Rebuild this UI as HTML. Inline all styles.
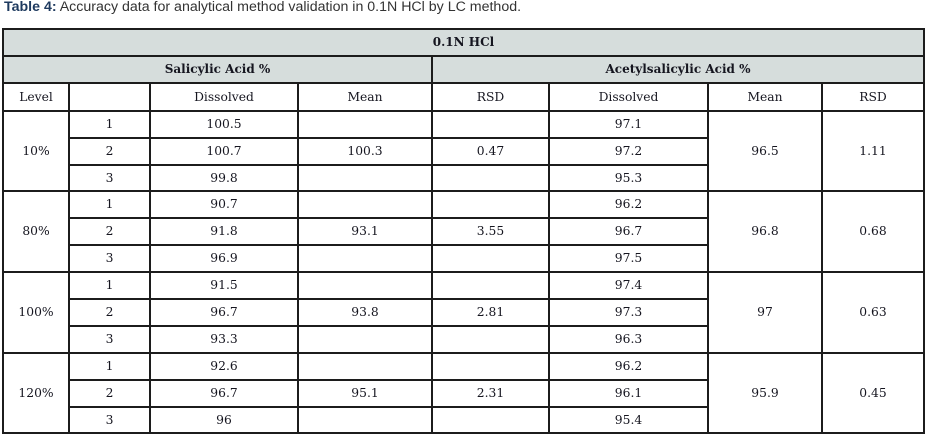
<!DOCTYPE html>
<html>
<head>
<meta charset="utf-8">
<style>
  html,body{margin:0;padding:0;background:#fff;}
  body{width:928px;height:438px;position:relative;overflow:hidden;}
  .title{position:absolute;left:4px;top:-1px;font-family:"Liberation Sans",Arial,sans-serif;font-size:14.2px;line-height:17px;color:#333;white-space:nowrap;}
  .title b{color:#1e3a5f;}
  .bg{position:absolute;background:#d6dddc;}
  .h{position:absolute;height:2px;background:#1c1c1c;}
  .v{position:absolute;width:2px;background:#1c1c1c;}
  .t{position:absolute;text-align:center;font-family:"DejaVu Serif","Liberation Serif",serif;font-size:12.3px;color:#15151f;white-space:nowrap;height:27px;line-height:27px;}
  .b{font-weight:bold;font-size:12px;}
</style>
</head>
<body>
<div class="title"><b>Table 4:</b> Accuracy data for analytical method validation in 0.1N HCl by LC method.</div>

<!-- header backgrounds -->
<div class="bg" style="left:3px;top:29px;width:921px;height:54px;"></div>

<!-- horizontal full lines -->
<div class="h" style="left:2px;width:923px;top:28px;"></div>
<div class="h" style="left:2px;width:923px;top:55px;"></div>
<div class="h" style="left:2px;width:923px;top:82px;"></div>
<div class="h" style="left:2px;width:923px;top:109.7px;"></div>
<div class="h" style="left:2px;width:923px;top:190.4px;"></div>
<div class="h" style="left:2px;width:923px;top:271.1px;"></div>
<div class="h" style="left:2px;width:923px;top:351.8px;"></div>
<div class="h" style="left:2px;width:923px;top:432px;"></div>

<!-- partial horizontal lines -->
<div class="h" style="left:69px;width:640px;top:136.6px;"></div>
<div class="h" style="left:69px;width:640px;top:163.5px;"></div>
<div class="h" style="left:69px;width:640px;top:217.3px;"></div>
<div class="h" style="left:69px;width:640px;top:244.2px;"></div>
<div class="h" style="left:69px;width:640px;top:298px;"></div>
<div class="h" style="left:69px;width:640px;top:324.9px;"></div>
<div class="h" style="left:69px;width:640px;top:378.7px;"></div>
<div class="h" style="left:69px;width:640px;top:405.6px;"></div>

<!-- vertical lines -->
<div class="v" style="left:2px;top:28px;height:406px;"></div>
<div class="v" style="left:923px;top:28px;height:406px;"></div>
<div class="v" style="left:431px;top:55px;height:379px;"></div>
<div class="v" style="left:68px;top:82px;height:352px;"></div>
<div class="v" style="left:149px;top:82px;height:352px;"></div>
<div class="v" style="left:297px;top:82px;height:352px;"></div>
<div class="v" style="left:548px;top:82px;height:352px;"></div>
<div class="v" style="left:707px;top:82px;height:352px;"></div>
<div class="v" style="left:821px;top:82px;height:352px;"></div>

<!-- header text -->
<div class="t b" style="left:3px;width:921px;top:29px;">0.1N HCl</div>
<div class="t b" style="left:3px;width:429px;top:56px;">Salicylic Acid %</div>
<div class="t b" style="left:432px;width:492px;top:56px;">Acetylsalicylic Acid %</div>

<div class="t" style="left:3px;width:66px;top:84px;">Level</div>
<div class="t" style="left:150px;width:148px;top:84px;">Dissolved</div>
<div class="t" style="left:298px;width:134px;top:84px;">Mean</div>
<div class="t" style="left:432px;width:117px;top:84px;">RSD</div>
<div class="t" style="left:549px;width:159px;top:84px;">Dissolved</div>
<div class="t" style="left:708px;width:114px;top:84px;">Mean</div>
<div class="t" style="left:822px;width:102px;top:84px;">RSD</div>

<!-- Group 10% -->
<div class="t" style="left:69px;width:81px;top:110.7px;">1</div>
<div class="t" style="left:150px;width:148px;top:110.7px;">100.5</div>
<div class="t" style="left:549px;width:159px;top:110.7px;">97.1</div>
<div class="t" style="left:3px;width:66px;top:137.6px;">10%</div>
<div class="t" style="left:69px;width:81px;top:137.6px;">2</div>
<div class="t" style="left:150px;width:148px;top:137.6px;">100.7</div>
<div class="t" style="left:298px;width:134px;top:137.6px;">100.3</div>
<div class="t" style="left:432px;width:117px;top:137.6px;">0.47</div>
<div class="t" style="left:549px;width:159px;top:137.6px;">97.2</div>
<div class="t" style="left:708px;width:114px;top:137.6px;">96.5</div>
<div class="t" style="left:822px;width:102px;top:137.6px;">1.11</div>
<div class="t" style="left:69px;width:81px;top:164.5px;">3</div>
<div class="t" style="left:150px;width:148px;top:164.5px;">99.8</div>
<div class="t" style="left:549px;width:159px;top:164.5px;">95.3</div>

<!-- Group 80% -->
<div class="t" style="left:69px;width:81px;top:191.4px;">1</div>
<div class="t" style="left:150px;width:148px;top:191.4px;">90.7</div>
<div class="t" style="left:549px;width:159px;top:191.4px;">96.2</div>
<div class="t" style="left:3px;width:66px;top:218.3px;">80%</div>
<div class="t" style="left:69px;width:81px;top:218.3px;">2</div>
<div class="t" style="left:150px;width:148px;top:218.3px;">91.8</div>
<div class="t" style="left:298px;width:134px;top:218.3px;">93.1</div>
<div class="t" style="left:432px;width:117px;top:218.3px;">3.55</div>
<div class="t" style="left:549px;width:159px;top:218.3px;">96.7</div>
<div class="t" style="left:708px;width:114px;top:218.3px;">96.8</div>
<div class="t" style="left:822px;width:102px;top:218.3px;">0.68</div>
<div class="t" style="left:69px;width:81px;top:245.2px;">3</div>
<div class="t" style="left:150px;width:148px;top:245.2px;">96.9</div>
<div class="t" style="left:549px;width:159px;top:245.2px;">97.5</div>

<!-- Group 100% -->
<div class="t" style="left:69px;width:81px;top:272.1px;">1</div>
<div class="t" style="left:150px;width:148px;top:272.1px;">91.5</div>
<div class="t" style="left:549px;width:159px;top:272.1px;">97.4</div>
<div class="t" style="left:3px;width:66px;top:299px;">100%</div>
<div class="t" style="left:69px;width:81px;top:299px;">2</div>
<div class="t" style="left:150px;width:148px;top:299px;">96.7</div>
<div class="t" style="left:298px;width:134px;top:299px;">93.8</div>
<div class="t" style="left:432px;width:117px;top:299px;">2.81</div>
<div class="t" style="left:549px;width:159px;top:299px;">97.3</div>
<div class="t" style="left:708px;width:114px;top:299px;">97</div>
<div class="t" style="left:822px;width:102px;top:299px;">0.63</div>
<div class="t" style="left:69px;width:81px;top:325.9px;">3</div>
<div class="t" style="left:150px;width:148px;top:325.9px;">93.3</div>
<div class="t" style="left:549px;width:159px;top:325.9px;">96.3</div>

<!-- Group 120% -->
<div class="t" style="left:69px;width:81px;top:352.8px;">1</div>
<div class="t" style="left:150px;width:148px;top:352.8px;">92.6</div>
<div class="t" style="left:549px;width:159px;top:352.8px;">96.2</div>
<div class="t" style="left:3px;width:66px;top:379.7px;">120%</div>
<div class="t" style="left:69px;width:81px;top:379.7px;">2</div>
<div class="t" style="left:150px;width:148px;top:379.7px;">96.7</div>
<div class="t" style="left:298px;width:134px;top:379.7px;">95.1</div>
<div class="t" style="left:432px;width:117px;top:379.7px;">2.31</div>
<div class="t" style="left:549px;width:159px;top:379.7px;">96.1</div>
<div class="t" style="left:708px;width:114px;top:379.7px;">95.9</div>
<div class="t" style="left:822px;width:102px;top:379.7px;">0.45</div>
<div class="t" style="left:69px;width:81px;top:406.6px;">3</div>
<div class="t" style="left:150px;width:148px;top:406.6px;">96</div>
<div class="t" style="left:549px;width:159px;top:406.6px;">95.4</div>
</body>
</html>
